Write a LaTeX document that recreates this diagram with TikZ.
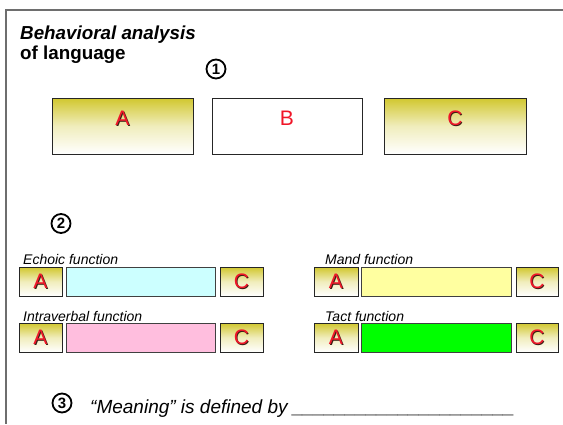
\documentclass[tikz,border=0pt]{standalone}
\usepackage{fontspec}
\setmainfont{Liberation Sans}
\definecolor{olivetop}{RGB}{209,199,46}
\definecolor{letterred}{RGB}{240,22,40}
\definecolor{shadowcol}{RGB}{60,30,20}
\definecolor{framegray}{RGB}{110,110,110}
\definecolor{echoiccol}{RGB}{204,255,255}
\definecolor{intraverbalcol}{RGB}{255,190,222}
\definecolor{mandcol}{RGB}{255,255,160}
\definecolor{tactcol}{RGB}{0,255,0}
% red letter with a small dark drop shadow
\newcommand{\shadowletter}[1]{%
  \makebox[0pt][l]{\kern0.8pt\raisebox{-0.8pt}{\textcolor{shadowcol}{#1}}}%
  \textcolor{letterred}{#1}}
\begin{document}
\begin{tikzpicture}[x=1pt,y=-1pt,
  gradbox/.style={rectangle, draw=black!85, line width=0.9pt,
    top color=olivetop, bottom color=white, middle color=olivetop!32!white,
    inner sep=0pt, outer sep=0pt, anchor=north west,
    font=\fontsize{21}{21}\selectfont, text=letterred},
  plainbox/.style={rectangle, draw=black!85, line width=0.9pt, fill=white,
    inner sep=0pt, outer sep=0pt, anchor=north west,
    font=\fontsize{21}{21}\selectfont, text=letterred},
  raised/.style={text depth=16pt},
  wordbox/.style={rectangle, draw=black!75, line width=0.8pt,
    inner sep=0pt, outer sep=0pt, anchor=north west},
  fnlabel/.style={anchor=base west, inner sep=0pt,
    font=\fontsize{14}{14}\selectfont\itshape},
  stepnum/.style={circle, draw=black, line width=1.8pt, inner sep=0pt,
    minimum size=19pt, font=\fontsize{15}{15}\selectfont\bfseries}
]
\useasboundingbox (0,0) rectangle (563,424);

% frame
\draw[framegray, line width=1.8pt] (563,10) -- (6,10) -- (6,424);

% title
\node[anchor=base west, inner sep=0pt, font=\fontsize{18.8}{20}\selectfont\bfseries\itshape]
  (title1) at (20,39) {Behavioral analysis};
\node[anchor=base west, inner sep=0pt, font=\fontsize{18.8}{20}\selectfont\bfseries]
  (title2) at (20,59) {of language};

% step 1: the three-term contingency
\node[stepnum] (one) at (216,69) {1};
\node[gradbox, raised, minimum width=141pt, minimum height=56pt] (A) at (52,98) {\shadowletter{A}};
\node[plainbox, raised, minimum width=150pt, minimum height=56pt] (B) at (212,98) {B};
\node[gradbox, raised, minimum width=142pt, minimum height=56pt] (C) at (384,98) {\shadowletter{C}};

% step 2: verbal operants
\node[stepnum] (two) at (61,223.5) {2};

\node[fnlabel] (echoicl) at (23,264) {Echoic function};
\node[gradbox, minimum width=43pt, minimum height=29pt] (echoicA) at (19,267) {\shadowletter{A}};
\node[wordbox, fill=echoiccol, minimum width=149pt, minimum height=29pt] (echoicB) at (66,267) {};
\node[gradbox, minimum width=43pt, minimum height=29pt] (echoicC) at (220,267) {\shadowletter{C}};

\node[fnlabel] (intral) at (23,321) {Intraverbal function};
\node[gradbox, minimum width=43pt, minimum height=29pt] (intraA) at (19,323) {\shadowletter{A}};
\node[wordbox, fill=intraverbalcol, minimum width=149pt, minimum height=29pt] (intraB) at (66,323) {};
\node[gradbox, minimum width=43pt, minimum height=29pt] (intraC) at (220,323) {\shadowletter{C}};

\node[fnlabel] (mandl) at (325,264) {Mand function};
\node[gradbox, minimum width=44pt, minimum height=29pt] (mandA) at (314,267) {\shadowletter{A}};
\node[wordbox, fill=mandcol, minimum width=150pt, minimum height=29pt] (mandB) at (361,267) {};
\node[gradbox, minimum width=42pt, minimum height=29pt] (mandC) at (516,267) {\shadowletter{C}};

\node[fnlabel] (tactl) at (325,321) {Tact function};
\node[gradbox, minimum width=44pt, minimum height=29pt] (tactA) at (314,323) {\shadowletter{A}};
\node[wordbox, fill=tactcol, minimum width=150pt, minimum height=29pt] (tactB) at (361,323) {};
\node[gradbox, minimum width=42pt, minimum height=29pt] (tactC) at (516,323) {\shadowletter{C}};

% step 3
\node[stepnum] (three) at (62,403) {3};
\node[anchor=base west, inner sep=0pt, font=\fontsize{19}{19}\selectfont\itshape]
  (meaning) at (90,413) {“Meaning” is defined by \_\_\_\_\_\_\_\_\_\_\_\_\_\_\_\_\_\_\_\_\_};
\end{tikzpicture}
\end{document}
